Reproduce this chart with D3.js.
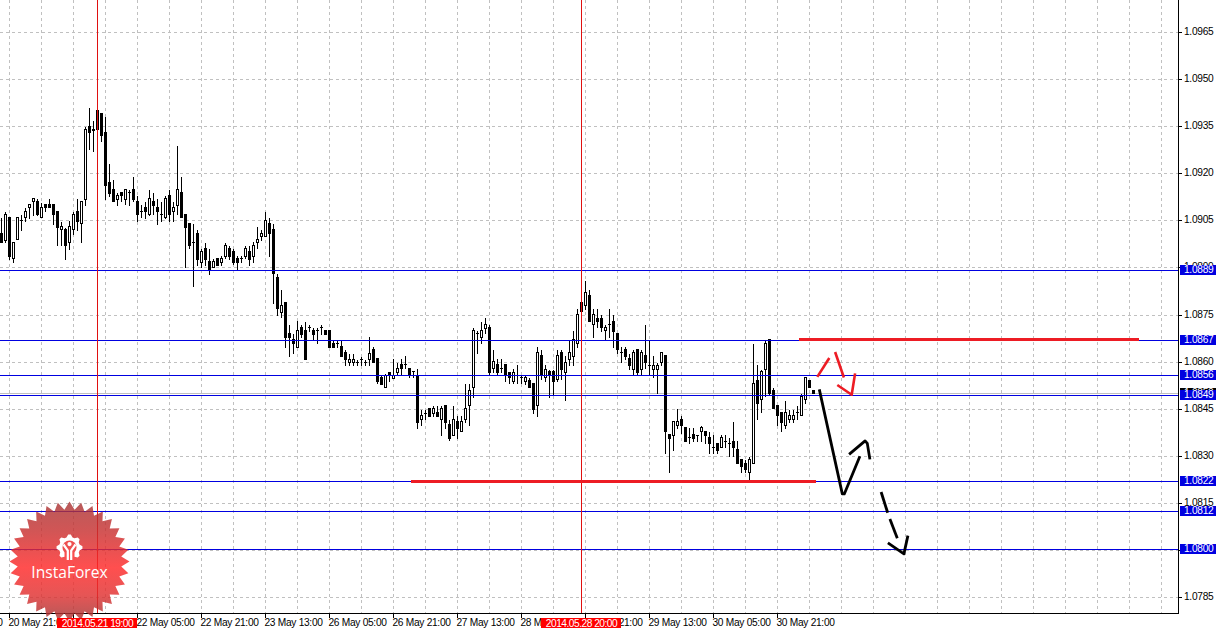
<!DOCTYPE html>
<html><head><meta charset="utf-8">
<style>
html,body{margin:0;padding:0;background:#fff;overflow:hidden}
svg{display:block}
text{font-family:"Liberation Sans",Arial,sans-serif;font-size:10.2px;letter-spacing:-0.3px}
</style>
<script src="https://cdn.jsdelivr.net/npm/d3@7"></script>
</head><body>
<div id="chart"></div>
<script>
// Hourly candles. Values are points above 1.00000 (9006 = 1.09006).
const open=[9006,8985,9057,8927,8987,9047,9056,9089,9107,9109,9056,9098,9098,9098,9077,9019,9020,8977,9019,9076,9037,9116,9348,9337,9398,9388,9327,9168,9147,9116,9137,9116,9138,9147,9108,9076,9089,9066,9108,9089,9067,9056,9127,9075,9097,9137,9067,9038,8978,9008,8916,8959,8917,8897,8927,8916,8935,8959,8949,8928,8927,8935,8949,8935,8978,8996,8996,9038,9019,8866,8757,8786,8688,8669,8645,8707,8697,8707,8697,8698,8707,8698,8698,8658,8658,8646,8627,8598,8598,8598,8607,8598,8607,8637,8608,8550,8518,8566,8547,8566,8590,8589,8577,8567,8556,8416,8436,8449,8436,8437,8416,8460,8399,8366,8408,8378,8416,8459,8518,8688,8677,8706,8707,8577,8590,8577,8590,8566,8537,8555,8548,8537,8539,8529,8459,8619,8548,8567,8567,8544,8627,8566,8607,8617,8658,8786,8777,8808,8716,8738,8738,8697,8717,8728,8688,8628,8637,8608,8575,8637,8575,8619,8588,8576,8576,8597,8619,8367,8366,8398,8417,8389,8357,8367,8366,8378,8378,8357,8328,8338,8327,8347,8338,8347,8319,8288,8277,8248,8277,8539,8478,8576,8669,8507,8460,8437,8397,8417,8417,8437,8427,8478,8539,8507];
const close=[8977,9067,8935,8978,9057,9048,9076,9098,9117,9067,9089,9089,9088,9066,9027,9028,8967,9028,9067,9046,9108,9337,9326,9335,9337,9317,9158,9135,9107,9127,9126,9147,9137,9116,9066,9075,9075,9117,9097,9075,9066,9117,9066,9089,9146,9056,9027,8967,8977,8925,8949,8925,8890,8917,8906,8927,8969,8935,8916,8916,8926,8959,8925,8969,8987,9006,9048,9006,8878,8767,8777,8677,8677,8658,8697,8687,8607,8706,8687,8697,8706,8687,8645,8645,8657,8617,8607,8607,8607,8597,8606,8597,8626,8598,8537,8527,8556,8555,8556,8577,8577,8588,8555,8566,8407,8427,8435,8426,8449,8426,8449,8407,8356,8417,8388,8408,8449,8507,8697,8687,8697,8716,8566,8599,8566,8576,8555,8548,8566,8554,8547,8548,8518,8448,8627,8555,8576,8554,8537,8618,8575,8597,8627,8669,8748,8758,8818,8728,8748,8728,8707,8707,8716,8696,8637,8627,8615,8588,8627,8566,8627,8597,8587,8588,8588,8627,8378,8356,8408,8408,8397,8346,8356,8356,8365,8389,8366,8338,8327,8317,8357,8346,8337,8327,8276,8267,8256,8287,8529,8467,8567,8658,8497,8449,8427,8407,8437,8427,8427,8436,8488,8548,8518,8497];
const high=[9059,9078,9059,8978,9057,9068,9089,9098,9117,9117,9105,9098,9117,9098,9077,9046,9027,9049,9078,9117,9108,9348,9407,9367,9398,9388,9379,9229,9178,9137,9137,9147,9147,9189,9127,9098,9107,9147,9137,9117,9108,9126,9147,9107,9287,9189,9067,9038,9038,9018,8959,8978,8959,8927,8927,8937,8979,8969,8959,8938,8937,8969,8969,8980,9030,9019,9077,9057,9038,8879,8829,8788,8717,8688,8730,8716,8727,8716,8707,8707,8717,8698,8698,8669,8669,8669,8637,8626,8626,8607,8617,8607,8679,8648,8608,8555,8561,8566,8608,8598,8608,8619,8577,8567,8577,8446,8446,8449,8460,8460,8460,8460,8417,8460,8428,8428,8529,8529,8707,8698,8728,8739,8717,8637,8608,8608,8590,8566,8577,8590,8558,8558,8548,8529,8647,8637,8589,8576,8576,8637,8637,8619,8669,8698,8767,8788,8857,8829,8768,8768,8748,8717,8767,8748,8688,8647,8647,8626,8637,8637,8637,8717,8669,8619,8597,8627,8619,8370,8408,8449,8428,8389,8389,8389,8366,8398,8378,8378,8367,8338,8367,8367,8357,8408,8348,8288,8288,8298,8658,8590,8576,8669,8669,8518,8460,8437,8476,8448,8448,8460,8497,8548,8539,8507];
const low=[8977,8977,8925,8916,8987,9017,9046,9055,9065,9065,9056,9075,9088,9036,8967,8967,8925,8957,9004,9017,8977,9097,9273,9266,9326,9298,9115,9125,9107,9096,9107,9098,9096,9107,9046,9057,9054,9065,9068,9036,9046,9054,9046,9046,9067,9056,8897,8959,8837,8906,8897,8906,8877,8897,8906,8906,8927,8925,8908,8890,8916,8927,8906,8916,8959,8985,8996,8935,8785,8746,8739,8643,8617,8626,8645,8675,8607,8696,8667,8658,8687,8687,8645,8645,8645,8617,8588,8588,8588,8588,8588,8588,8588,8598,8529,8527,8518,8537,8547,8555,8555,8577,8548,8548,8387,8398,8416,8426,8426,8426,8366,8388,8348,8366,8356,8378,8407,8398,8486,8626,8658,8688,8555,8566,8555,8566,8537,8529,8529,8529,8529,8526,8518,8435,8426,8544,8537,8486,8495,8537,8544,8476,8587,8587,8645,8758,8766,8728,8677,8709,8696,8666,8677,8645,8626,8596,8607,8575,8555,8555,8555,8577,8557,8548,8497,8587,8308,8248,8317,8387,8370,8346,8338,8346,8346,8346,8338,8308,8308,8308,8327,8327,8298,8298,8276,8248,8248,8221,8277,8416,8438,8488,8491,8449,8397,8378,8388,8407,8407,8417,8427,8467,8518,8497];

// Axis content
const priceTicks=[1.0785,1.0800,1.0815,1.0830,1.0845,1.0860,1.0875,1.0890,1.0905,1.0920,1.0935,1.0950,1.0965];
const timeBars=[-14,2,18,34,50,66,82,98,114,130,146,162,178,194];
const timeLabels=["20 May 05:00","20 May 21:00","21 May 13:00","22 May 05:00","22 May 21:00","23 May 13:00","26 May 05:00","26 May 21:00","27 May 13:00","28 May 05:00","28 May 21:00","29 May 13:00","30 May 05:00","30 May 21:00"];
// Horizontal levels and their axis labels
const levelValues=[1.08892,1.08669,1.08557,1.08494,1.08220,1.08124,1.08003];
const levelLabels=["1.0889","1.0867","1.0856","1.0849","1.0822","1.0812","1.0800"];
const bidPrice=1.08500;
const bidLabel="1.0850";
// Vertical markers
const markerBars=[24,145];
const markerLabels=["2014.05.21 19:00","2014.05.28 20:00"];
// Drawn annotations: [bar, price]
const redLevels=[[[199.4,1.08672],[284.4,1.08672]],[[102.4,1.08220],[203.6,1.08220]]];
const redStrokes=[[[203.95,1.08553],[206.95,1.08613]],[[208.4,1.08632],[210.6,1.08551]],[[208.95,1.08527],[212.55,1.08496],[213.4,1.08564]]];
const blackStrokes=[[[204.45,1.08513],[210.2,1.08180],[210.7,1.08180],[214.6,1.08300]],[[211.9,1.08306],[215.9,1.08349],[216.45,1.08341],[217.1,1.08290]],[[219.9,1.08186],[221.55,1.08120]],[[222.1,1.08100],[223.95,1.08039]],[[221.6,1.08024],[225.6,1.07989],[226.6,1.08047]]];

const W=1220,H=631,axisX=1178.5,axisY=613.5;
const x=d3.scaleLinear().domain([0,1]).range([1.5,5.5]);
const y=d3.scaleLinear().domain([1.0965,1.0785]).range([32.5,597.5]);
// read-off calibration of the candle points against the price grid
const pr=v=>1+(v+0.96+(v-8200)*0.00262)/1e5;
const crisp=v=>Math.round(y(v)-0.5+1e-6)+0.5;

const svg=d3.select("#chart").append("svg").attr("width",W).attr("height",H).attr("shape-rendering","crispEdges");

// grid
const grid=svg.append("g").attr("stroke","#c0c0c0").attr("stroke-dasharray","3,3");
grid.selectAll("line.h").data(priceTicks).join("line").attr("class","h")
  .attr("x1",0).attr("x2",axisX).attr("y1",d=>crisp(d)).attr("y2",d=>crisp(d));
grid.selectAll("line.v").data(d3.range(2,291,8)).join("line").attr("class","v")
  .attr("x1",d=>x(d)).attr("x2",d=>x(d)).attr("y1",0).attr("y2",axisY);

// bid line
svg.append("line").attr("x1",0).attr("x2",axisX).attr("y1",crisp(bidPrice)).attr("y2",crisp(bidPrice)).attr("stroke","#c0c0c0");

// candles
const candles=svg.append("g").selectAll("g").data(open.map((o,i)=>({i,o:pr(o),c:pr(close[i]),h:pr(high[i]),l:pr(low[i])}))).join("g");
candles.append("line").attr("x1",d=>x(d.i)).attr("x2",d=>x(d.i)).attr("y1",d=>crisp(d.h)).attr("y2",d=>crisp(d.l)+0.5).attr("stroke","#000");
candles.each(function(d){
  const g=d3.select(this),top=crisp(Math.max(d.o,d.c)),bot=crisp(Math.min(d.o,d.c));
  if(top===bot||Math.abs(d.o-d.c)<0.00002){
    g.append("line").attr("x1",x(d.i)-1.5).attr("x2",x(d.i)+1.5).attr("y1",top).attr("y2",top).attr("stroke","#000");
  }else{
    g.append("rect").attr("x",x(d.i)-1).attr("width",2).attr("y",top).attr("height",bot-top)
      .attr("fill",d.c<d.o?"#000":"#fff").attr("stroke","#000");
  }
});

// levels
svg.append("g").selectAll("line").data(levelValues).join("line")
  .attr("x1",0).attr("x2",axisX).attr("y1",d=>crisp(d)).attr("y2",d=>crisp(d)).attr("stroke","#0000e0");
// markers
svg.append("g").selectAll("line").data(markerBars).join("line")
  .attr("x1",d=>x(d)).attr("x2",d=>x(d)).attr("y1",0).attr("y2",axisY).attr("stroke","#e01010");

// freehand strokes
const line=d3.line().x(d=>x(d[0])).y(d=>y(d[1]));
const strokes=svg.append("g").attr("fill","none").attr("stroke-linejoin","round").attr("shape-rendering","auto");
strokes.selectAll("path.r").data(redStrokes).join("path").attr("class","r").attr("d",line).attr("stroke","#ed1c24").attr("stroke-width",2.6);
strokes.selectAll("path.b").data(blackStrokes).join("path").attr("class","b").attr("d",line).attr("stroke","#000").attr("stroke-width",2.8);
svg.append("g").selectAll("path").data(redLevels).join("path").attr("d",line).attr("fill","none").attr("stroke","#ed1c24").attr("stroke-width",3);

// axes
const xAxis=d3.axisBottom(x).offset(0).tickValues(timeBars).tickSize(4).tickSizeOuter(0).tickFormat((d,i)=>timeLabels[i]);
const gx=svg.append("g").attr("transform",`translate(0,${axisY})`).call(xAxis);
gx.select(".domain").attr("d",`M0,0H${axisX}`).attr("stroke","#000");
gx.selectAll(".tick line").attr("stroke","#000");
gx.selectAll(".tick text").attr("text-anchor","start").attr("x",-1).attr("y",5).attr("dy","0.71em").attr("fill","#000");

const yAxis=d3.axisRight(y).offset(0).tickValues(priceTicks).tickSize(3).tickSizeOuter(0).tickFormat(d3.format(".4f"));
const gy=svg.append("g").attr("transform",`translate(${axisX},0)`).call(yAxis);
gy.select(".domain").attr("d",`M0,0V${axisY}`).attr("stroke","#000");
gy.selectAll(".tick").attr("transform",d=>`translate(0,${crisp(d)})`);
gy.selectAll(".tick line").attr("stroke","#000");
gy.selectAll(".tick text").attr("x",5.5).attr("y",-1).attr("fill","#000");

// bid + level tags
function tag(v,label,bg){
  const c=crisp(v)-0.5;
  const t=svg.append("g");
  t.append("rect").attr("x",axisX+1.5).attr("y",c-5.5).attr("width",36).attr("height",10.5).attr("fill",bg);
  t.append("text").attr("x",axisX+5.5).attr("y",c).attr("dy","0.34em").attr("fill","#fff").text(label);
}
tag(bidPrice,bidLabel,"#000");
levelValues.forEach((v,i)=>tag(v,levelLabels[i],"#0000e0"));

// logo
const logo=svg.append("g").attr("transform",`translate(${x(17)},561.5)`).attr("shape-rendering","auto");
const defs=svg.append("defs");
const grad=defs.append("linearGradient").attr("id","lg").attr("x1",0).attr("x2",0).attr("y1",0).attr("y2",1);
[[0,"#a83636"],[0.25,"#c83030"],[0.55,"#ff2828"],[0.78,"#e03030"],[1,"#a03434"]].forEach(s=>grad.append("stop").attr("offset",s[0]).attr("stop-color",s[1]));
const starN=32,starPts=d3.range(starN*2).map(i=>[i*Math.PI/starN,i%2?52:60]);
logo.append("path").attr("d",d3.lineRadial().curve(d3.curveLinearClosed)(starPts)).attr("fill","url(#lg)").attr("opacity",0.82);
const gear=logo.append("g").attr("transform","translate(0,-14)");
const gearPts=d3.range(32).map(i=>[(i-0.5)*Math.PI/16,(i%4<2)?13:10.5]);
gear.append("path").attr("d",d3.lineRadial().curve(d3.curveLinearClosed)(gearPts)).attr("fill","#fff");
gear.append("circle").attr("r",7).attr("fill","#ee5050");
gear.append("rect").attr("x",-5).attr("y",5).attr("width",10).attr("height",9).attr("fill","#fb4f4f");
gear.append("circle").attr("cy",-3.4).attr("r",2.1).attr("fill","#fff");
gear.append("path").attr("d","M-6,-3 L-1.7,3 L-1.7,12.5 M6,-3 L1.7,3 L1.7,12.5").attr("stroke","#fff").attr("stroke-width",2.2).attr("fill","none");
logo.append("text").attr("text-anchor","middle").attr("y",16.8).style("font-family","'Open Sans'").style("font-size","15.6px").style("letter-spacing","0").attr("fill","#fff").text("InstaForex");

// marker tags
const mt=svg.append("g").selectAll("g").data(markerBars).join("g").attr("transform",d=>`translate(${x(d)},${axisY})`);
mt.append("rect").attr("x",-40.5).attr("y",4).attr("width",80).attr("height",10.5).attr("fill","#ff0000");
mt.append("text").attr("text-anchor","middle").attr("y",9.5).attr("dy","0.36em").attr("fill","#fff").style("letter-spacing","-0.5px").text((d,i)=>markerLabels[i]);
</script>
</body></html>
